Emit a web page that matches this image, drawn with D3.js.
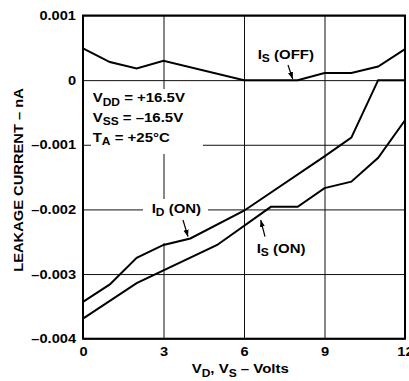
<!DOCTYPE html>
<html>
<head>
<meta charset="utf-8">
<script src="https://cdn.jsdelivr.net/npm/d3@7/dist/d3.min.js"></script>
<style>
  html, body { margin: 0; padding: 0; background: #fff; }
  svg { display: block; }
  text { font-family: "Liberation Sans", Arial, Helvetica, sans-serif; font-weight: bold; fill: #000; }
</style>
</head>
<body>
<div id="chart"></div>
<script>
// ---- data ----
var xTicks = [0, 3, 6, 9, 12];
var yTicks = [0.001, 0, -0.001, -0.002, -0.003, -0.004];

// I_S (OFF)
var offV = [0, 1, 2, 3, 6, 8, 9, 10, 11, 12];
var offI = [0.00049, 0.00028, 0.00018, 0.0003, 0, 0, 0.00011, 0.00011, 0.00021, 0.00048];

// I_D (ON)
var idOnV = [0, 1, 2, 3, 4, 6, 9, 10, 11, 12];
var idOnI = [-0.00343, -0.00316, -0.00275, -0.00255, -0.00245, -0.00202, -0.00118, -0.00089, 0, 0];

// I_S (ON)
var isOnV = [0, 2, 5, 7, 8, 9, 10, 11, 12];
var isOnI = [-0.00369, -0.00314, -0.00255, -0.00196, -0.00196, -0.00167, -0.00157, -0.0012, -0.00062];

// ---- geometry ----
var outerWidth = 409, outerHeight = 381;
var plotL = 83, plotR = 405, plotT = 15.5, plotB = 338.7;
var W = plotR - plotL, H = plotB - plotT;
var sx = 1.17; // glyphs in the original are wider than Liberation Sans

var svg = d3.select("#chart").append("svg")
    .attr("width", outerWidth)
    .attr("height", outerHeight);

svg.append("rect").attr("width", outerWidth).attr("height", outerHeight).attr("fill", "#fff");

var x = d3.scaleLinear().domain([0, 12]).range([plotL, plotR]);
var y = d3.scaleLinear().domain([-0.004, 0.001]).range([plotB, plotT]);

function fmt(d) {
    if (d === 0) return "0";
    return (d < 0 ? "\u2013" : "") + Math.abs(d).toFixed(3);
}

// y axis + horizontal grid
var yAxis = svg.append("g")
    .attr("transform", "translate(" + plotL + ",0)")
    .call(d3.axisLeft(y).tickValues(yTicks).tickSize(-W).tickPadding(0).tickFormat(fmt));
yAxis.select(".domain").remove();
yAxis.selectAll("line").attr("stroke", "#111").attr("stroke-width", 1);
yAxis.selectAll("text")
    .attr("font-size", 12.5)
    .attr("x", -7 / sx)
    .attr("transform", "scale(" + sx + ",1)");

// x axis + vertical grid
var xAxis = svg.append("g")
    .attr("transform", "translate(0," + plotB + ")")
    .call(d3.axisBottom(x).tickValues(xTicks).tickSize(-H).tickPadding(8.6));
xAxis.select(".domain").remove();
xAxis.selectAll("line").attr("stroke", "#111").attr("stroke-width", 1);
xAxis.selectAll("text")
    .attr("font-size", 12.5)
    .attr("transform", "scale(" + sx + ",1)");

// frame
svg.append("rect")
    .attr("x", plotL).attr("y", plotT)
    .attr("width", W).attr("height", H)
    .attr("fill", "none").attr("stroke", "#000").attr("stroke-width", 2);

// white boxes that break the grid under the annotations
svg.append("rect").attr("x", 91).attr("y", 89).attr("width", 112).attr("height", 65).attr("fill", "#fff");
svg.append("rect").attr("x", 143).attr("y", 199).attr("width", 65).attr("height", 44).attr("fill", "#fff");

// curves
var line = d3.line().x(function (d) { return x(d[0]); }).y(function (d) { return y(d[1]); });
[[offV, offI], [idOnV, idOnI], [isOnV, isOnI]].forEach(function (s) {
    var pts = s[0].map(function (v, i) { return [v, s[1][i]]; });
    svg.append("path")
        .attr("d", line(pts))
        .attr("fill", "none")
        .attr("stroke", "#000")
        .attr("stroke-width", 2)
        .attr("stroke-linejoin", "miter");
});

// labels
function addLabel(px, py, parts, size) {
    var g = svg.append("g").attr("transform", "translate(" + px + "," + py + ") scale(" + sx + ",1)");
    var t = g.append("text").attr("font-size", size);
    var shifted = false;
    parts.forEach(function (p) {
        if (typeof p === "string") {
            var ts = t.append("tspan").text(p);
            if (shifted) { ts.attr("dy", -3.5); shifted = false; }
        } else {
            t.append("tspan").attr("font-size", size * 0.8).attr("dy", 3.5).text(p.sub);
            shifted = true;
        }
    });
    return g;
}

addLabel(92.7, 102, ["V", {sub: "DD"}, " = +16.5V"], 12.8);
addLabel(92.7, 121.5, ["V", {sub: "SS"}, " = \u201316.5V"], 12.8);
addLabel(92.7, 141.5, ["T", {sub: "A"}, " = +25\u00B0C"], 12.8);

addLabel(257.7, 58.5, ["I", {sub: "S"}, " (OFF)"], 12.8);
addLabel(151.7, 212.5, ["I", {sub: "D"}, " (ON)"], 12.8);
addLabel(256.7, 252.5, ["I", {sub: "S"}, " (ON)"], 12.8);

addLabel(191.7, 373.3, ["V", {sub: "D"}, ", V", {sub: "S"}, " \u2013 Volts"], 12.8);

// y title (rotated)
svg.append("g")
    .attr("transform", "translate(22.7,180) rotate(-90) scale(1.13,1)")
    .append("text")
    .attr("font-size", 13)
    .attr("text-anchor", "middle")
    .text("LEAKAGE CURRENT \u2013 nA");

// arrows
svg.append("defs").append("marker")
    .attr("id", "head")
    .attr("viewBox", "0 -3 7 6")
    .attr("refX", 7).attr("refY", 0)
    .attr("markerWidth", 7).attr("markerHeight", 6)
    .attr("markerUnits", "userSpaceOnUse")
    .attr("orient", "auto")
    .append("path").attr("d", "M0,-2.6L7,0L0,2.6Z").attr("fill", "#000");

[[288, 65, 292.7, 79], [183, 220, 188, 236.7], [265, 236.7, 260.7, 220]].forEach(function (a) {
    svg.append("line")
        .attr("x1", a[0]).attr("y1", a[1]).attr("x2", a[2]).attr("y2", a[3])
        .attr("stroke", "#000").attr("stroke-width", 1.2)
        .attr("marker-end", "url(#head)");
});
</script>
</body>
</html>
